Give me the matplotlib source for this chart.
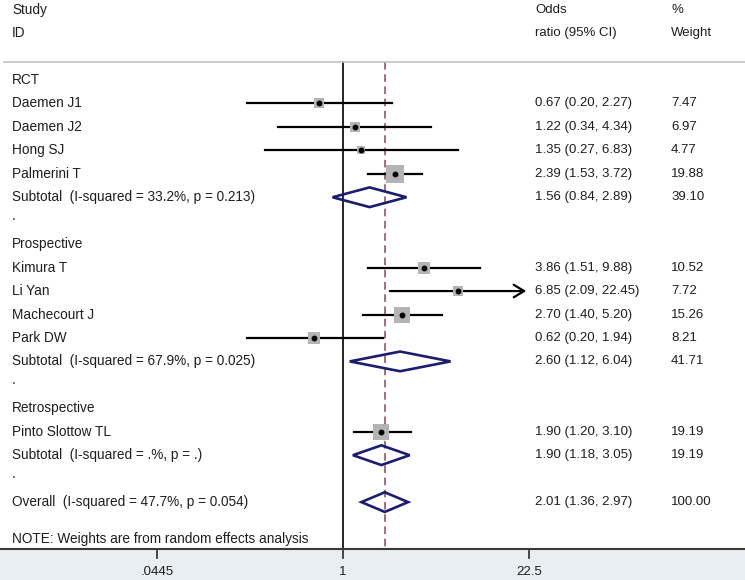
import numpy as np
import matplotlib
matplotlib.use("Agg")
import matplotlib.pyplot as plt
from matplotlib.patches import Polygon
from matplotlib.transforms import blended_transform_factory

plt.rcParams['font.family'] = ['Liberation Sans', 'DejaVu Sans']

# study level results
studies = ["Daemen J1", "Daemen J2", "Hong SJ", "Palmerini T",
           "Kimura T", "Li Yan", "Machecourt J", "Park DW",
           "Pinto Slottow TL"]
study_group = [0, 0, 0, 0, 1, 1, 1, 1, 2]
study_or = [0.67, 1.22, 1.35, 2.39, 3.86, 6.85, 2.70, 0.62, 1.90]
study_lo = [0.20, 0.34, 0.27, 1.53, 1.51, 2.09, 1.40, 0.20, 1.20]
study_hi = [2.27, 4.34, 6.83, 3.72, 9.88, 22.45, 5.20, 1.94, 3.10]
study_w = [7.47, 6.97, 4.77, 19.88, 10.52, 7.72, 15.26, 8.21, 19.19]

# subgroup pooled results
groups = ["RCT", "Prospective", "Retrospective"]
group_i2 = ["33.2%, p = 0.213", "67.9%, p = 0.025", ".%, p = ."]
group_or = [1.56, 2.60, 1.90]
group_lo = [0.84, 1.12, 1.18]
group_hi = [2.89, 6.04, 3.05]
group_w = [39.10, 41.71, 19.19]

overall_i2 = "47.7%, p = 0.054"
overall_or, overall_lo, overall_hi = 2.01, 1.36, 2.97

xticks = [0.0445, 1, 22.5]
xticklabels = [".0445", "1", "22.5"]
xmax = 22.5  # CIs beyond this get an arrow

fig = plt.figure(figsize=(7.45, 5.8), dpi=100)
ax = fig.add_axes([0, 0, 1, 1])
ax.set_xscale("log")
# 343px <-> OR 1, 59.8 px per log unit
ax.set_xlim(np.exp(-343 / 59.8), np.exp(402 / 59.8))
step = 23.45
ax.set_ylim((580 - 80) / step, -80 / step)
ax.axis("off")

tr = blended_transform_factory(ax.transAxes, ax.transData)
txt = dict(transform=tr, va="center", fontsize=9.8, color="#1e1e1e")
num = dict(transform=tr, va="center", fontsize=9.5, color="#1e1e1e")
xc_lab, xc_ci, xc_w = 12 / 745, 535 / 745, 671 / 745

# header
ax.text(xc_lab, -2.98, "Study", **txt)
ax.text(xc_lab, -2.0, "ID", **txt)
ax.text(xc_ci, -2.98, "Odds", **num)
ax.text(xc_ci, -2.0, "ratio (95% CI)", **num)
ax.text(xc_w, -2.98, "%", **num)
ax.text(xc_w, -2.0, "Weight", **num)
ax.plot([4 / 745, 1], [-0.77, -0.77], transform=tr, color="#c4c4c4", lw=1.2)

navy = "#1c1c70"


def diamond(y, est, lo, hi):
    h = 0.42
    pts = [(lo, y), (est, y - h), (hi, y), (est, y + h)]
    ax.add_patch(Polygon(pts, closed=True, fill=False, edgecolor=navy, lw=1.9, zorder=3))


row = 0
for g, name in enumerate(groups):
    ax.text(xc_lab, row, name, **txt)
    row += 1
    for i in range(len(studies)):
        if study_group[i] != g:
            continue
        ax.text(xc_lab, row, studies[i], **txt)
        ax.text(xc_ci, row, f"{study_or[i]:.2f} ({study_lo[i]:.2f}, {study_hi[i]:.2f})", **num)
        ax.text(xc_w, row, f"{study_w[i]:.2f}", **num)
        if study_hi[i] >= xmax * 0.99:
            ax.annotate("", xy=(study_hi[i], row), xytext=(study_lo[i], row),
                        arrowprops=dict(arrowstyle="->,head_length=0.75,head_width=0.45",
                                        color="black", lw=1.6), zorder=2)
        else:
            ax.plot([study_lo[i], study_hi[i]], [row, row], color="black", lw=1.6, zorder=2)
        ax.scatter(study_or[i], row, marker="s", s=7.8 * study_w[i], color="#b4b4b4", zorder=3,
                   linewidths=0)
        ax.plot(study_or[i], row, "o", color="black", ms=3.2, zorder=4)
        row += 1
    ax.text(xc_lab, row, f"Subtotal  (I-squared = {group_i2[g]})", **txt)
    ax.text(xc_ci, row, f"{group_or[g]:.2f} ({group_lo[g]:.2f}, {group_hi[g]:.2f})", **num)
    ax.text(xc_w, row, f"{group_w[g]:.2f}", **num)
    diamond(row, group_or[g], group_lo[g], group_hi[g])
    row += 1
    ax.text(xc_lab, row - 0.2, ".", **txt)
    row += 1

ax.text(xc_lab, row, f"Overall  (I-squared = {overall_i2})", **txt)
ax.text(xc_ci, row, f"{overall_or:.2f} ({overall_lo:.2f}, {overall_hi:.2f})", **num)
ax.text(xc_w, row, "100.00", **num)
diamond(row, overall_or, overall_lo, overall_hi)
ax.text(xc_lab, row + 1.57, "NOTE: Weights are from random effects analysis", **txt)

base = row + 2
# reference lines
ax.plot([1, 1], [-0.77, base], color="black", lw=1.2, zorder=1)
ax.plot([overall_or, overall_or], [-0.77, base], color="#8c4656", lw=1.1,
        dashes=(5, 3), zorder=1)

# bottom axis strip
ax.axhspan(base, 30, color="#e8eef1", zorder=0)
ax.plot([0, 1], [base, base], transform=tr, color="#3a3a3a", lw=1.5, zorder=2)
for t, lab in zip(xticks, xticklabels):
    ax.plot([t, t], [base, base + 0.38], color="#3a3a3a", lw=1.3)
    ax.text(t, base + 0.98, lab, ha="center", va="center", fontsize=9.5, color="#1e1e1e")

fig.savefig("out.png", dpi=100)
